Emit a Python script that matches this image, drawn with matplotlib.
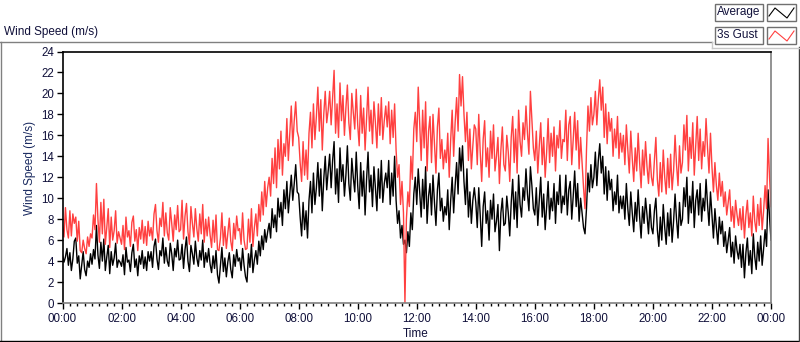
import matplotlib
matplotlib.use("Agg")
import matplotlib.pyplot as plt
from matplotlib.ticker import MultipleLocator, FuncFormatter
from matplotlib.lines import Line2D
from matplotlib.patches import Rectangle
import numpy as np

# wind speed in m/s, sampled every 3 minutes (one row per hour, last row ends at 24:00)
average = [
    4.6, 3.9, 4.4, 5.2, 3.6, 4.8, 3.1, 4.2, 5.9, 6.2, 3.8, 4.5, 2.3, 3.6, 4.9, 3.2, 2.6, 4.0, 3.4, 4.7,
    3.7, 5.1, 4.2, 7.4, 4.6, 3.3, 5.8, 4.0, 6.1, 3.1, 4.4, 5.5, 2.8, 4.9, 3.6, 4.3, 5.7, 3.4, 4.1, 3.9,
    3.5, 4.6, 2.7, 5.3, 3.9, 4.1, 3.0, 4.8, 5.6, 3.4, 4.2, 2.6, 4.5, 3.7, 5.0, 3.3, 4.4, 3.1, 4.9, 4.0,
    4.9, 3.4, 5.4, 6.1, 4.2, 3.2, 5.0, 4.5, 6.2, 3.8, 5.3, 4.0, 3.5, 5.7, 4.7, 3.1, 5.2, 4.4, 6.0, 4.1,
    4.2, 5.6, 3.3, 5.1, 6.3, 4.0, 3.0, 5.5, 4.7, 3.7, 5.9, 4.3, 3.5, 5.0, 4.1, 6.0, 3.4, 4.8, 3.9, 5.2,
    3.7, 2.9, 4.5, 3.3, 5.0, 2.7, 1.9, 3.6, 5.3, 3.0, 4.3, 2.5, 3.9, 4.8, 3.2, 2.4, 4.6, 3.5, 5.1, 4.0,
    4.3, 3.1, 5.2, 3.6, 2.5, 2.0, 4.7, 3.4, 5.6, 2.9, 4.1, 5.0, 3.7, 5.9, 4.5, 6.4, 5.1, 7.0, 5.8, 6.8,
    7.6, 6.2, 9.0, 7.2, 8.4, 6.8, 10.0, 8.2, 9.6, 7.4, 10.8, 9.0, 11.6, 8.6, 10.4, 12.2, 9.8, 11.4, 13.2, 10.6,
    10.4, 8.2, 6.4, 9.6, 7.0, 8.8, 6.2, 9.8, 11.6, 8.6, 12.4, 9.4, 11.0, 13.4, 10.2, 12.8, 8.8, 11.8, 14.0, 10.8,
    12.6, 14.2, 11.0, 13.6, 15.4, 10.4, 12.8, 9.6, 14.8, 11.6, 13.2, 10.2, 12.2, 15.0, 11.4, 9.8, 13.8, 12.0, 10.6, 14.4,
    11.2, 9.0, 13.4, 10.2, 12.6, 8.4, 11.8, 14.4, 10.6, 12.2, 9.2, 13.0, 11.0, 8.8, 12.8, 10.0, 13.6, 9.6, 11.4, 12.4,
    11.0, 13.6, 9.4, 12.4, 10.2, 14.0, 9.8, 7.6, 8.8, 6.2, 7.4, 5.6, 6.0, 4.8, 6.8, 5.4, 8.6, 7.0, 10.4, 12.0,
    9.4, 12.8, 10.6, 8.2, 11.8, 9.0, 13.0, 7.6, 10.2, 11.4, 8.4, 12.2, 9.6, 7.4, 10.8, 12.4, 8.8, 10.0, 7.8, 9.2,
    8.4, 10.8, 7.0, 9.8, 12.0, 8.6, 11.2, 13.4, 10.4, 14.8, 12.6, 15.0, 11.6, 9.4, 12.8, 8.2, 10.6, 7.6, 9.8, 11.0,
    9.6, 7.2, 11.0, 8.4, 5.4, 9.2, 10.6, 7.6, 8.8, 6.0, 9.8, 8.0, 10.4, 6.8, 7.8, 9.4, 5.0, 8.6, 10.0, 7.4,
    7.6, 10.2, 8.6, 6.4, 9.6, 11.8, 8.0, 10.6, 7.2, 12.2, 9.4, 8.2, 11.0, 9.8, 12.8, 10.4, 8.8, 13.0, 11.2, 9.0,
    8.4, 11.0, 7.4, 9.8, 12.0, 8.2, 10.4, 7.0, 9.2, 11.6, 8.0, 10.0, 8.8, 11.4, 7.6, 10.6, 9.4, 12.2, 8.6, 10.2,
    9.4, 12.2, 8.4, 10.8, 11.6, 8.0, 10.2, 12.6, 9.2, 11.4, 7.8, 10.0, 8.6, 7.2, 6.6, 9.0, 12.4, 10.6, 13.2, 11.0,
    12.0, 14.4, 11.2, 13.6, 15.2, 12.4, 14.0, 10.4, 13.0, 9.8, 12.6, 10.8, 11.8, 8.8, 10.6, 9.4, 12.2, 8.6, 10.2, 9.0,
    10.2, 8.0, 11.4, 9.0, 7.4, 10.6, 8.6, 6.8, 9.6, 7.8, 10.8, 8.2, 6.2, 9.2, 7.6, 10.0, 8.4, 6.6, 9.4, 7.2,
    6.6, 8.8, 10.0, 7.0, 5.4, 8.2, 6.0, 9.4, 7.2, 5.6, 8.6, 6.4, 9.0, 5.8, 7.8, 10.4, 8.0, 6.2, 9.6, 7.4,
    8.0, 11.0, 9.2, 12.0, 7.6, 10.2, 8.6, 11.6, 7.2, 9.8, 10.8, 8.4, 11.4, 7.8, 10.0, 8.8, 11.8, 9.4, 7.4, 10.6,
    8.4, 6.2, 9.0, 7.2, 5.6, 8.2, 6.6, 7.8, 5.4, 6.8, 4.8, 6.0, 7.2, 4.4, 5.8, 3.8, 6.4, 5.0, 4.2, 5.6,
    3.4, 5.6, 2.4, 4.8, 6.2, 3.6, 5.0, 2.8, 6.6, 4.4, 3.2, 5.8, 4.0, 6.4, 3.6, 5.2, 7.0, 5.4, 10.8, 8.2, 6.0,
]
gust = [
    7.4, 6.3, 9.1, 7.0, 6.2, 8.8, 6.4, 8.5, 7.6, 8.2, 5.9, 7.8, 5.0, 4.8, 6.0, 5.2, 4.7, 6.3, 5.4, 6.6,
    6.2, 8.4, 7.0, 11.4, 8.0, 5.8, 9.6, 6.6, 9.9, 5.6, 7.2, 9.0, 5.3, 8.2, 6.0, 6.9, 8.8, 5.7, 6.8, 6.2,
    5.6, 7.4, 5.1, 8.2, 6.3, 6.9, 5.4, 7.7, 8.3, 5.9, 7.0, 5.0, 7.2, 6.1, 7.9, 5.7, 7.3, 5.5, 7.8, 6.4,
    7.2, 6.0, 8.5, 9.4, 6.9, 5.8, 8.1, 7.3, 9.6, 6.4, 8.6, 6.7, 6.0, 9.1, 7.6, 5.9, 8.4, 7.0, 9.3, 6.8,
    7.0, 9.8, 6.1, 8.3, 9.5, 6.8, 5.6, 9.2, 7.6, 6.3, 9.0, 7.1, 5.9, 8.5, 6.6, 9.4, 5.8, 8.0, 6.4, 8.2,
    6.5, 5.3, 7.9, 5.8, 8.4, 5.1, 5.0, 6.2, 8.6, 5.5, 7.3, 5.2, 6.7, 8.1, 5.9, 5.0, 7.6, 6.1, 8.3, 6.9,
    7.1, 5.6, 8.6, 6.0, 5.1, 5.2, 8.0, 5.8, 9.0, 5.4, 7.2, 8.5, 6.4, 9.4, 7.8, 10.6, 8.4, 11.6, 9.2, 11.0,
    12.0, 10.2, 13.8, 11.4, 14.8, 11.0, 15.6, 12.8, 16.4, 12.2, 15.2, 14.0, 17.6, 13.6, 16.2, 18.8, 15.0, 17.4, 19.2, 16.4,
    15.8, 13.4, 11.6, 15.4, 12.2, 14.6, 11.8, 16.2, 18.2, 14.8, 19.0, 15.6, 17.8, 20.6, 16.4, 19.4, 14.6, 18.0, 20.2, 17.2,
    18.4, 20.2, 17.0, 19.6, 22.2, 16.2, 19.0, 15.8, 21.0, 17.4, 19.8, 16.0, 18.6, 20.8, 17.2, 15.6, 20.0, 18.2, 16.6, 20.4,
    17.0, 15.0, 19.8, 16.2, 18.6, 14.6, 17.6, 20.6, 16.4, 18.4, 15.2, 19.2, 17.2, 14.8, 19.0, 16.0, 19.6, 15.6, 17.4, 18.8,
    16.8, 19.2, 15.2, 18.4, 15.8, 19.0, 14.6, 12.0, 13.2, 9.4, 11.6, 8.6, 0.0, 8.0, 10.6, 9.2, 14.0, 11.8, 16.6, 18.2,
    15.4, 20.6, 17.2, 13.6, 18.4, 14.8, 19.2, 12.6, 16.4, 17.8, 13.4, 18.0, 15.2, 12.4, 16.8, 18.6, 13.8, 15.6, 12.8, 14.6,
    13.4, 16.2, 12.0, 15.6, 18.4, 14.0, 17.2, 19.6, 16.4, 21.8, 18.8, 21.6, 18.0, 15.4, 18.2, 13.6, 16.6, 12.8, 15.0, 17.0,
    16.6, 13.2, 18.0, 14.4, 11.6, 15.6, 17.4, 13.0, 14.8, 12.0, 16.4, 13.8, 17.0, 12.6, 14.0, 15.8, 11.4, 14.6, 16.8, 13.2,
    12.6, 16.0, 14.4, 11.6, 15.8, 17.8, 13.4, 16.6, 12.4, 18.4, 15.4, 14.0, 17.2, 15.6, 18.8, 16.2, 14.2, 20.2, 17.4, 14.8,
    13.6, 16.4, 12.4, 15.0, 17.2, 13.2, 15.8, 12.0, 14.4, 17.6, 13.4, 16.2, 14.0, 16.8, 12.6, 16.0, 14.8, 17.4, 13.8, 15.6,
    15.4, 18.4, 13.6, 17.0, 17.8, 13.2, 15.6, 18.2, 14.6, 17.4, 12.8, 15.8, 13.4, 11.0, 9.0, 14.6, 18.8, 16.4, 19.6, 17.0,
    18.0, 20.2, 17.0, 19.4, 21.3, 18.4, 20.6, 15.8, 19.0, 15.2, 18.2, 16.4, 17.6, 14.0, 16.6, 14.8, 17.8, 13.8, 16.2, 14.4,
    16.0, 13.2, 17.0, 14.6, 12.4, 16.4, 13.8, 11.6, 14.8, 12.6, 16.2, 13.4, 11.0, 14.6, 12.2, 15.4, 13.0, 11.4, 14.2, 12.0,
    11.2, 13.6, 15.8, 11.8, 10.2, 13.4, 10.6, 14.6, 12.0, 10.4, 13.8, 11.0, 14.2, 10.8, 12.6, 16.0, 13.2, 11.2, 15.0, 12.4,
    13.4, 17.0, 14.6, 17.9, 12.6, 15.8, 13.8, 17.2, 12.2, 15.0, 17.8, 13.6, 16.6, 12.8, 15.4, 14.0, 17.6, 14.8, 12.4, 16.2,
    13.0, 10.6, 13.4, 11.2, 9.8, 12.4, 10.2, 11.6, 9.2, 10.6, 8.4, 9.6, 10.8, 7.8, 9.2, 7.2, 9.8, 8.4, 7.4, 9.0,
    7.0, 9.2, 6.2, 8.4, 9.8, 7.2, 8.6, 6.4, 10.2, 7.8, 6.8, 9.4, 7.4, 10.0, 7.0, 8.8, 11.2, 9.0, 15.7, 12.0, 9.2,
]
step_minutes = 3
x_ticks = list(range(0, 25, 2))
y_ticks = list(range(0, 25, 2))

hours = np.arange(len(average)) * step_minutes / 60.0

W, H = 800, 342
fig = plt.figure(figsize=(W / 100, H / 100), dpi=100)
plt.rcParams['font.family'] = ['Liberation Sans', 'DejaVu Sans']

def fx(px):
    return px / W

def fy(py):
    return 1 - py / H

ax = fig.add_axes([fx(62.5), fy(303), fx(771) - fx(62.5), fy(51.5) - fy(303)])
ax.plot(hours, average, color='black', lw=1.0)
ax.plot(hours, gust, color='#ff4040', lw=1.0)
ax.set_xlim(0, 24)
ax.set_ylim(0, 24)

ax.set_yticks(y_ticks)
ax.set_xticks(x_ticks)
ax.xaxis.set_minor_locator(MultipleLocator(0.25))
ax.xaxis.set_major_formatter(FuncFormatter(lambda v, p: "%02d:00" % (int(round(v)) % 24)))
ax.tick_params(axis='both', which='major', direction='out', length=4, width=1,
               labelsize=8.3, labelcolor='#10103a', color='black', pad=2)
ax.tick_params(axis='x', which='minor', direction='out', length=2.5, width=1, color='black')
ax.tick_params(axis='x', which='major', pad=3)

ax.spines['left'].set_color('black')
ax.spines['top'].set_color('black')
ax.spines['right'].set_color('#808080')
ax.spines['bottom'].set_color('#808080')
for s in ax.spines.values():
    s.set_linewidth(1.2)

fig.text(fx(416), fy(334), "Time", ha='center', va='center', fontsize=8.5, color='#10103a')
fig.text(fx(30), fy(168), "Wind Speed (m/s)", ha='center', va='center', rotation=90,
         fontsize=8.5, color='#1a2a60')
fig.text(fx(4), fy(32), "Wind Speed (m/s)", ha='left', va='center', fontsize=8.5, color='#10103a')

# outer frame
frame = [
    ((0, 42), (712, 42), '#808080'),
    ((0.5, 42), (0.5, 341), '#808080'),
    ((0, 341), (800, 341), 'black'),
    ((799, 47), (799, 341), '#404040'),
    ((712, 48), (799, 48), '#c8c8c8'),
    ((712, 42), (712, 48), '#c8c8c8'),
]
for (x0, y0), (x1, y1), c in frame:
    fig.add_artist(Line2D([fx(x0), fx(x1)], [fy(y0), fy(y1)], color=c, lw=1,
                          transform=fig.transFigure))

# legend
legend_rows = [("Average", 'black', 4), ("3s Gust", '#ff4040', 27)]
for name, col, top in legend_rows:
    fig.add_artist(Rectangle((fx(715), fy(top + 17)), fx(763) - fx(715), fy(top) - fy(top + 17),
                             facecolor='white', edgecolor='#707070', lw=1, transform=fig.transFigure))
    fig.add_artist(Rectangle((fx(767), fy(top + 17)), fx(796) - fx(767), fy(top) - fy(top + 17),
                             facecolor='white', edgecolor='#707070', lw=1, transform=fig.transFigure))
    fig.text(fx(717), fy(top + 8.5), name, ha='left', va='center', fontsize=8.5, color='#10103a')
    zx = [769, 775, 787, 794]
    zy = [top + 12, top + 4, top + 14, top + 4]
    fig.add_artist(Line2D([fx(v) for v in zx], [fy(v) for v in zy], color=col, lw=0.8,
                          transform=fig.transFigure))

fig.savefig("out.png", dpi=100)
